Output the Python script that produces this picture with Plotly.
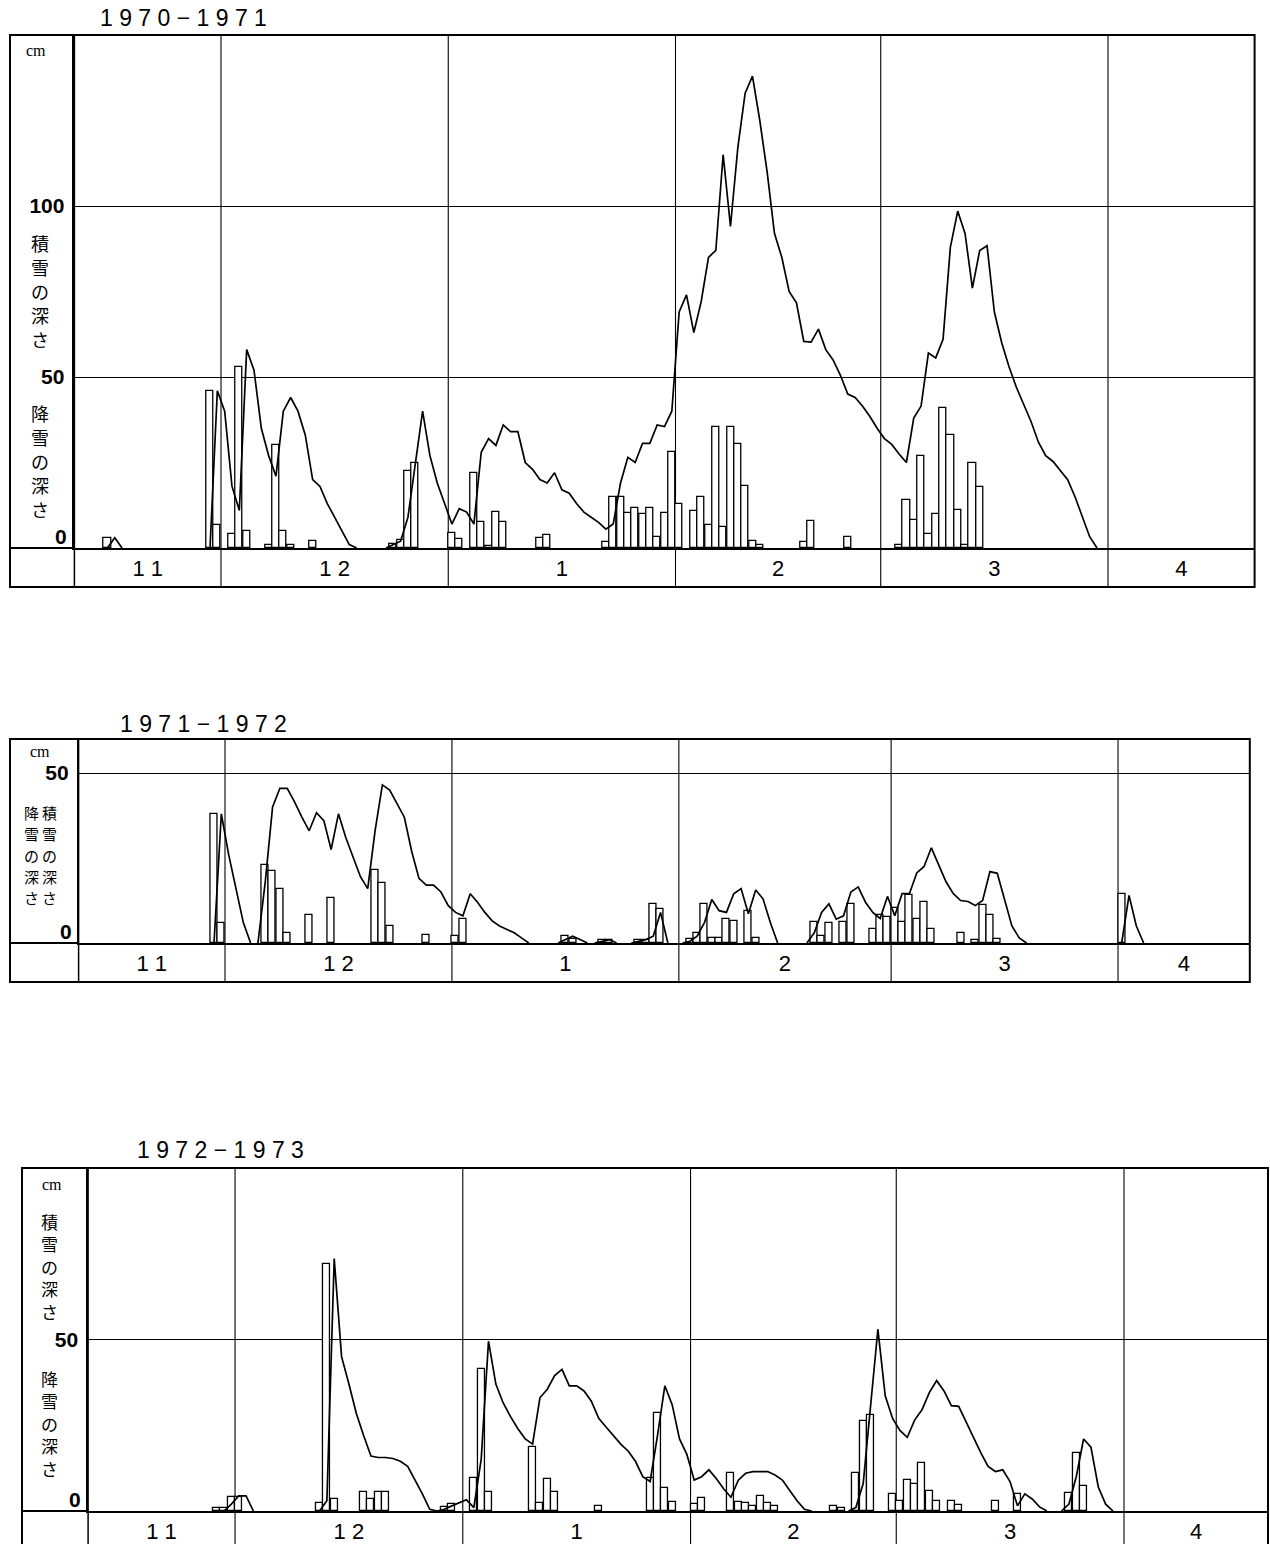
import plotly.graph_objects as go

W, H = 1270, 1544

# x = day index, 0 = 1 November ; bars = daily snowfall (降雪の深さ), line = snow depth (積雪の深さ)
month_labels = ["1 1", "1 2", "1", "2", "3", "4"]

# ---------------- 1970-1971 ----------------
p1_title = "1 9 7 0 − 1 9 7 1"
p1_month_start = [0, 30, 61, 92, 120, 151, 181]
p1_fall_day = [14, 28, 29, 31, 32, 33, 36, 37, 38, 39,
               42, 53, 54, 55, 56, 61, 62, 64, 65, 66,
               67, 68, 73, 74, 82, 83, 84, 85, 86, 87,
               88, 89, 90, 91, 92, 94, 95, 96, 97, 98,
               99, 100, 101, 102, 103, 109, 110, 115, 122, 123,
               124, 125, 126, 127, 128, 129, 130, 131, 132, 133]
p1_fall_cm = [3, 46, 6.7, 4, 53, 5, 1, 30, 5, 1,
              2, 1.2, 2.3, 22.6, 24.8, 4.5, 2.6, 21.8, 7.5, 0.7,
              10.6, 7.5, 2.9, 3.8, 1.8, 15, 15, 10.2, 11.8, 9.9,
              11.8, 3.1, 10.2, 28, 13, 10.9, 15, 6.8, 35.3, 6,
              35.3, 30.3, 18.2, 2.1, 1.0, 1.9, 7.8, 3.1, 1.0, 14,
              8.3, 26.9, 4.1, 9.9, 40.9, 32.9, 11, 0.8, 24.8, 17.9]
p1_depth_first_day = [14, 28, 52]
p1_depth_cm = [
    [0, 3, 0],
    [0, 46, 40, 18, 11, 58, 52, 35, 27, 21, 40, 44, 40, 33, 20, 18, 13, 9, 5, 1, 0],
    [0, 1, 2, 9, 24, 40, 27, 19, 13, 7,
     11.5, 10.5, 7, 28, 32, 30, 36, 34, 34, 25,
     23, 20, 19, 22, 17, 16, 13, 10.5, 9, 7.5,
     5.5, 7, 19, 26.5, 25, 30.6, 30.6, 36, 35.5, 40,
     69, 74, 63, 72, 85, 87, 115, 94, 117, 133,
     138, 125, 110, 92, 85, 75, 71.7, 60.4, 60.2, 64,
     58, 55, 50.5, 45, 44, 41.5, 38.5, 35, 32, 30.3,
     27.5, 25, 38, 41.5, 57, 55.6, 61, 88, 98.5, 92,
     76, 87, 88.4, 69, 60, 53, 47, 42, 37, 31,
     27, 25.3, 22.5, 20, 15, 9, 3.3, 0],
]
p1_yticks = [50, 100]

# ---------------- 1971-1972 ----------------
p2_title = "1 9 7 1 − 1 9 7 2"
p2_month_start = [0, 30, 61, 92, 121, 152, 182]
p2_fall_day = [28, 29, 35, 36, 37, 38, 41, 44, 50, 51,
               52, 57, 61, 62, 76, 77, 81, 82, 86, 87,
               88, 89, 93, 94, 95, 96, 97, 98, 99, 101,
               102, 110, 111, 112, 114, 115, 118, 119, 120, 121,
               122, 123, 124, 125, 126, 130, 132, 133, 134, 135,
               152]
p2_fall_cm = [38, 6, 23, 21.3, 16, 3, 8.3, 13.2, 21.5, 17.6,
              5.1, 2.4, 2, 7, 2, 1.2, 1, 1, 1, 1,
              11.6, 10, 1.2, 3, 11.6, 1.4, 1.4, 7, 6.6, 9.3,
              1.4, 6.3, 2, 6, 6.3, 11.5, 4, 8.2, 7.7, 10.2,
              6.3, 14.2, 7.1, 12.2, 4, 3, 1, 11.2, 8.2, 1.3,
              14.5]
p2_depth_first_day = [28, 34, 75, 80, 85, 92, 109, 152]
p2_depth_cm = [
    [0, 38, 26, 16, 6, 0],
    [0, 18, 40, 45.5, 45.5, 41.5, 37, 33, 38.3, 36,
     27.5, 38, 31, 25, 19.5, 16, 33, 46.5, 45, 41,
     37, 27, 19, 17, 17, 15, 11, 9, 8, 14.5,
     12, 9, 6.5, 5, 4, 3, 1.5, 0],
    [0, 1, 2, 1, 0],
    [0, 0.5, 1, 0],
    [0, 0.5, 1, 2, 9, 0],
    [0, 0.5, 2, 6, 12.8, 9.5, 9, 14.5, 16, 8.6, 15.6, 13, 6, 0],
    [0, 3, 9, 11.5, 7, 8, 15, 16.5, 12, 9,
     7.2, 13.7, 8, 14.5, 14.5, 20.6, 22.5, 28, 23, 18,
     14.5, 12.5, 12.2, 11, 12.5, 21, 20.5, 12.7, 5, 1.5, 0],
    [0, 14, 5, 0],
]
p2_yticks = [50]

# ---------------- 1972-1973 ----------------
p3_title = "1 9 7 2 − 1 9 7 3"
p3_month_start = [0, 30, 61, 92, 120, 151, 181]
p3_fall_day = [27, 28, 29, 30, 41, 42, 43, 47, 48, 49,
               50, 58, 59, 62, 63, 64, 70, 71, 72, 73,
               79, 86, 87, 88, 89, 92, 93, 97, 98, 99,
               100, 101, 102, 103, 111, 112, 114, 115, 116, 119,
               120, 121, 122, 123, 124, 125, 127, 128, 133, 136,
               143, 144, 145]
p3_fall_cm = [1, 1, 4, 4, 2.2, 72, 3.4, 5.4, 3.4, 5.4,
              5.4, 1.2, 1.9, 9.5, 41.3, 5.4, 18.6, 2.3, 9.4, 5.4,
              1.5, 9.7, 28.7, 6.7, 2.6, 1.9, 3.9, 11, 2.6, 2.4,
              1.5, 4.5, 2.4, 1.5, 1.5, 0.9, 11, 26.2, 28, 4.9,
              3, 9, 7.9, 14, 5.9, 2.8, 2.8, 1.7, 2.9, 5,
              5.2, 17, 7.2]
p3_depth_first_day = [28, 41, 57, 113, 142]
p3_depth_cm = [
    [0, 2, 4.4, 4.4, 0],
    [0, 3, 73.6, 45, 37, 28.5, 22, 16, 15.6, 15.6, 15.3, 14.5, 13, 9, 5, 0.5, 0],
    [0, 0.5, 1.5, 2.5, 3.3, 1, 15, 49.5, 37, 31.5,
     27.5, 24, 21, 19.5, 33, 35.5, 39.5, 41.3, 36.5, 36.5,
     35, 32, 27, 24.5, 22, 19.5, 17.5, 14.5, 10, 8.6,
     22, 36.5, 31, 21, 16.5, 9, 10, 12, 9.5, 6.5,
     4, 9, 11, 11.5, 11.5, 11.5, 10.5, 9, 6, 3,
     0.5, 0],
    [0, 1, 8, 30, 53, 33.6, 27, 23.5, 21.5, 26.5,
     29.5, 34.5, 38, 35, 30.7, 30.5, 26, 21, 17, 13,
     11.5, 12, 8.5, 1.5, 5, 3.5, 1.2, 0],
    [0, 2, 10, 21, 18.6, 7, 2, 0],
]
p3_yticks = [50]

# axis titles, one glyph row per entry (vertical writing)
col_depth = ["積", "雪", "の", "深", "さ"]
col_fall = ["降", "雪", "の", "深", "さ"]

# ---------------- layout geometry (pixels) ----------------
panels = [
    dict(title=p1_title, ms=p1_month_start, fd=p1_fall_day, fc=p1_fall_cm,
         dd=p1_depth_first_day, dc=p1_depth_cm, yt=p1_yticks,
         px0=74.4, px1=1254.6, xr=(10, 171), top=35, base=548, ymax=150, rowbot=587, left=10,
         title_xy=(183, 18), cm_xy=(36, 50),
         vcols=[(40, 243, 24, col_depth, 18), (40, 413, 24, col_fall, 18)]),
    dict(title=p2_title, ms=p2_month_start, fd=p2_fall_day, fc=p2_fall_cm,
         dd=p2_depth_first_day, dc=p2_depth_cm, yt=p2_yticks,
         px0=78.6, px1=1249.8, xr=(10, 170), top=739, base=943, ymax=60, rowbot=982, left=10,
         title_xy=(203, 724), cm_xy=(40, 752),
         vcols=[(31, 812, 21.5, col_fall, 15), (49, 812, 21.5, col_depth, 15)]),
    dict(title=p3_title, ms=p3_month_start, fd=p3_fall_day, fc=p3_fall_cm,
         dd=p3_depth_first_day, dc=p3_depth_cm, yt=p3_yticks,
         px0=88.1, px1=1268, xr=(10, 170.6), top=1168, base=1511, ymax=100, rowbot=1556, left=22,
         title_xy=(220, 1150), cm_xy=(52, 1184),
         vcols=[(49, 1221, 22.5, col_depth, 17), (49, 1378, 22.5, col_fall, 17)]),
]


def PX(x):
    return x / W


def PY(y):
    return 1 - y / H


fig = go.Figure()
shapes = []
annotations = []
layout_axes = {}

for i, p in enumerate(panels, start=1):
    xa = "x" if i == 1 else f"x{i}"
    ya = "y" if i == 1 else f"y{i}"
    # bars (daily snowfall)
    fig.add_trace(go.Bar(
        x=[d + 0.5 for d in p["fd"]], y=p["fc"], width=0.96,
        marker=dict(color="white", line=dict(color="black", width=1.3)),
        xaxis=xa, yaxis=ya, showlegend=False, hoverinfo="skip"))
    # line (snow depth)
    lx, ly = [], []
    for first, vals in zip(p["dd"], p["dc"]):
        for k, v in enumerate(vals):
            lx.append(first + k + 0.5)
            ly.append(v)
        lx.append(None)
        ly.append(None)
    fig.add_trace(go.Scatter(x=lx, y=ly, mode="lines",
                             line=dict(color="black", width=1.7),
                             xaxis=xa, yaxis=ya, showlegend=False, hoverinfo="skip"))

    lo, hi = p["xr"]
    bounds = [b for b in p["ms"] if lo < b < hi]
    centers, labels = [], []
    for m in range(len(p["ms"]) - 1):
        a, b = max(p["ms"][m], lo), min(p["ms"][m + 1], hi)
        if b > a:
            centers.append((a + b) / 2)
            labels.append(month_labels[m])

    xkey = "xaxis" if i == 1 else f"xaxis{i}"
    ykey = "yaxis" if i == 1 else f"yaxis{i}"
    layout_axes[xkey] = dict(domain=[PX(p["px0"]), PX(p["px1"])], range=[lo, hi],
                             anchor=ya, showline=True, linecolor="black", linewidth=2,
                             showgrid=False, zeroline=False, ticks="",
                             tickvals=centers, ticktext=labels, ticklabelstandoff=0,
                             tickfont=dict(family="Liberation Sans", size=22, color="black"),
                             fixedrange=True)
    layout_axes[ykey] = dict(domain=[PY(p["base"]), PY(p["top"])], range=[0, p["ymax"]],
                             anchor=xa, showline=True, linecolor="black", linewidth=1.5,
                             showgrid=True, gridcolor="black", gridwidth=1, zeroline=False,
                             ticks="", tickvals=p["yt"], ticktext=[str(t) for t in p["yt"]],
                             ticklabelstandoff=4,
                             tickfont=dict(family="Liberation Sans", size=21, color="black", weight="bold"),
                             fixedrange=True)
    # "0" label sits just above the baseline, as in the original
    annotations.append(dict(x=PX(p["px0"] - 5), y=0, xref="paper", yref=ya, text="0",
                            showarrow=False, xanchor="right", yanchor="bottom", yshift=-2,
                            font=dict(family="Liberation Sans", size=21, color="black", weight="bold")))

    # frame
    shapes.append(dict(type="rect", xref="paper", yref="paper", layer="below",
                       x0=PX(p["left"]), x1=PX(p["px1"]), y0=PY(p["rowbot"]), y1=PY(p["top"]),
                       line=dict(color="black", width=2)))
    shapes.append(dict(type="line", xref="paper", yref="paper", layer="below",
                       x0=PX(p["left"]), x1=PX(p["px0"]), y0=PY(p["base"]), y1=PY(p["base"]),
                       line=dict(color="black", width=2)))
    shapes.append(dict(type="line", xref="paper", yref="paper", layer="below",
                       x0=PX(p["px0"]), x1=PX(p["px0"]), y0=PY(p["rowbot"]), y1=PY(p["top"]),
                       line=dict(color="black", width=1.5)))
    for b in bounds:
        shapes.append(dict(type="line", xref=xa, yref="paper", layer="below",
                           x0=b, x1=b, y0=PY(p["rowbot"]), y1=PY(p["top"]),
                           line=dict(color="black", width=1.1)))

    # texts
    tx, ty = p["title_xy"]
    annotations.append(dict(x=PX(tx), y=PY(ty), xref="paper", yref="paper", text=p["title"],
                            showarrow=False, xanchor="center", yanchor="middle",
                            font=dict(family="Liberation Sans", size=23, color="black")))
    cx, cy = p["cm_xy"]
    annotations.append(dict(x=PX(cx), y=PY(cy), xref="paper", yref="paper", text="cm",
                            showarrow=False, xanchor="center", yanchor="middle",
                            font=dict(family="Liberation Serif", size=16, color="black")))
    for vx, vy0, step, glyphs, fs in p["vcols"]:
        for k, g in enumerate(glyphs):
            annotations.append(dict(x=PX(vx), y=PY(vy0 + k * step), xref="paper", yref="paper",
                                    text=g, showarrow=False, xanchor="center", yanchor="middle",
                                    font=dict(family="Noto Sans CJK JP", size=fs, color="black")))

fig.update_layout(
    width=W, height=H, autosize=False,
    margin=dict(l=0, r=0, t=0, b=0, pad=0),
    paper_bgcolor="white", plot_bgcolor="white",
    barmode="overlay", bargap=0,
    shapes=shapes, annotations=annotations,
    **layout_axes,
)

fig.write_html("out.html", config={"displayModeBar": False},
               post_script="document.body.style.margin='0';document.body.style.overflow='hidden';")
